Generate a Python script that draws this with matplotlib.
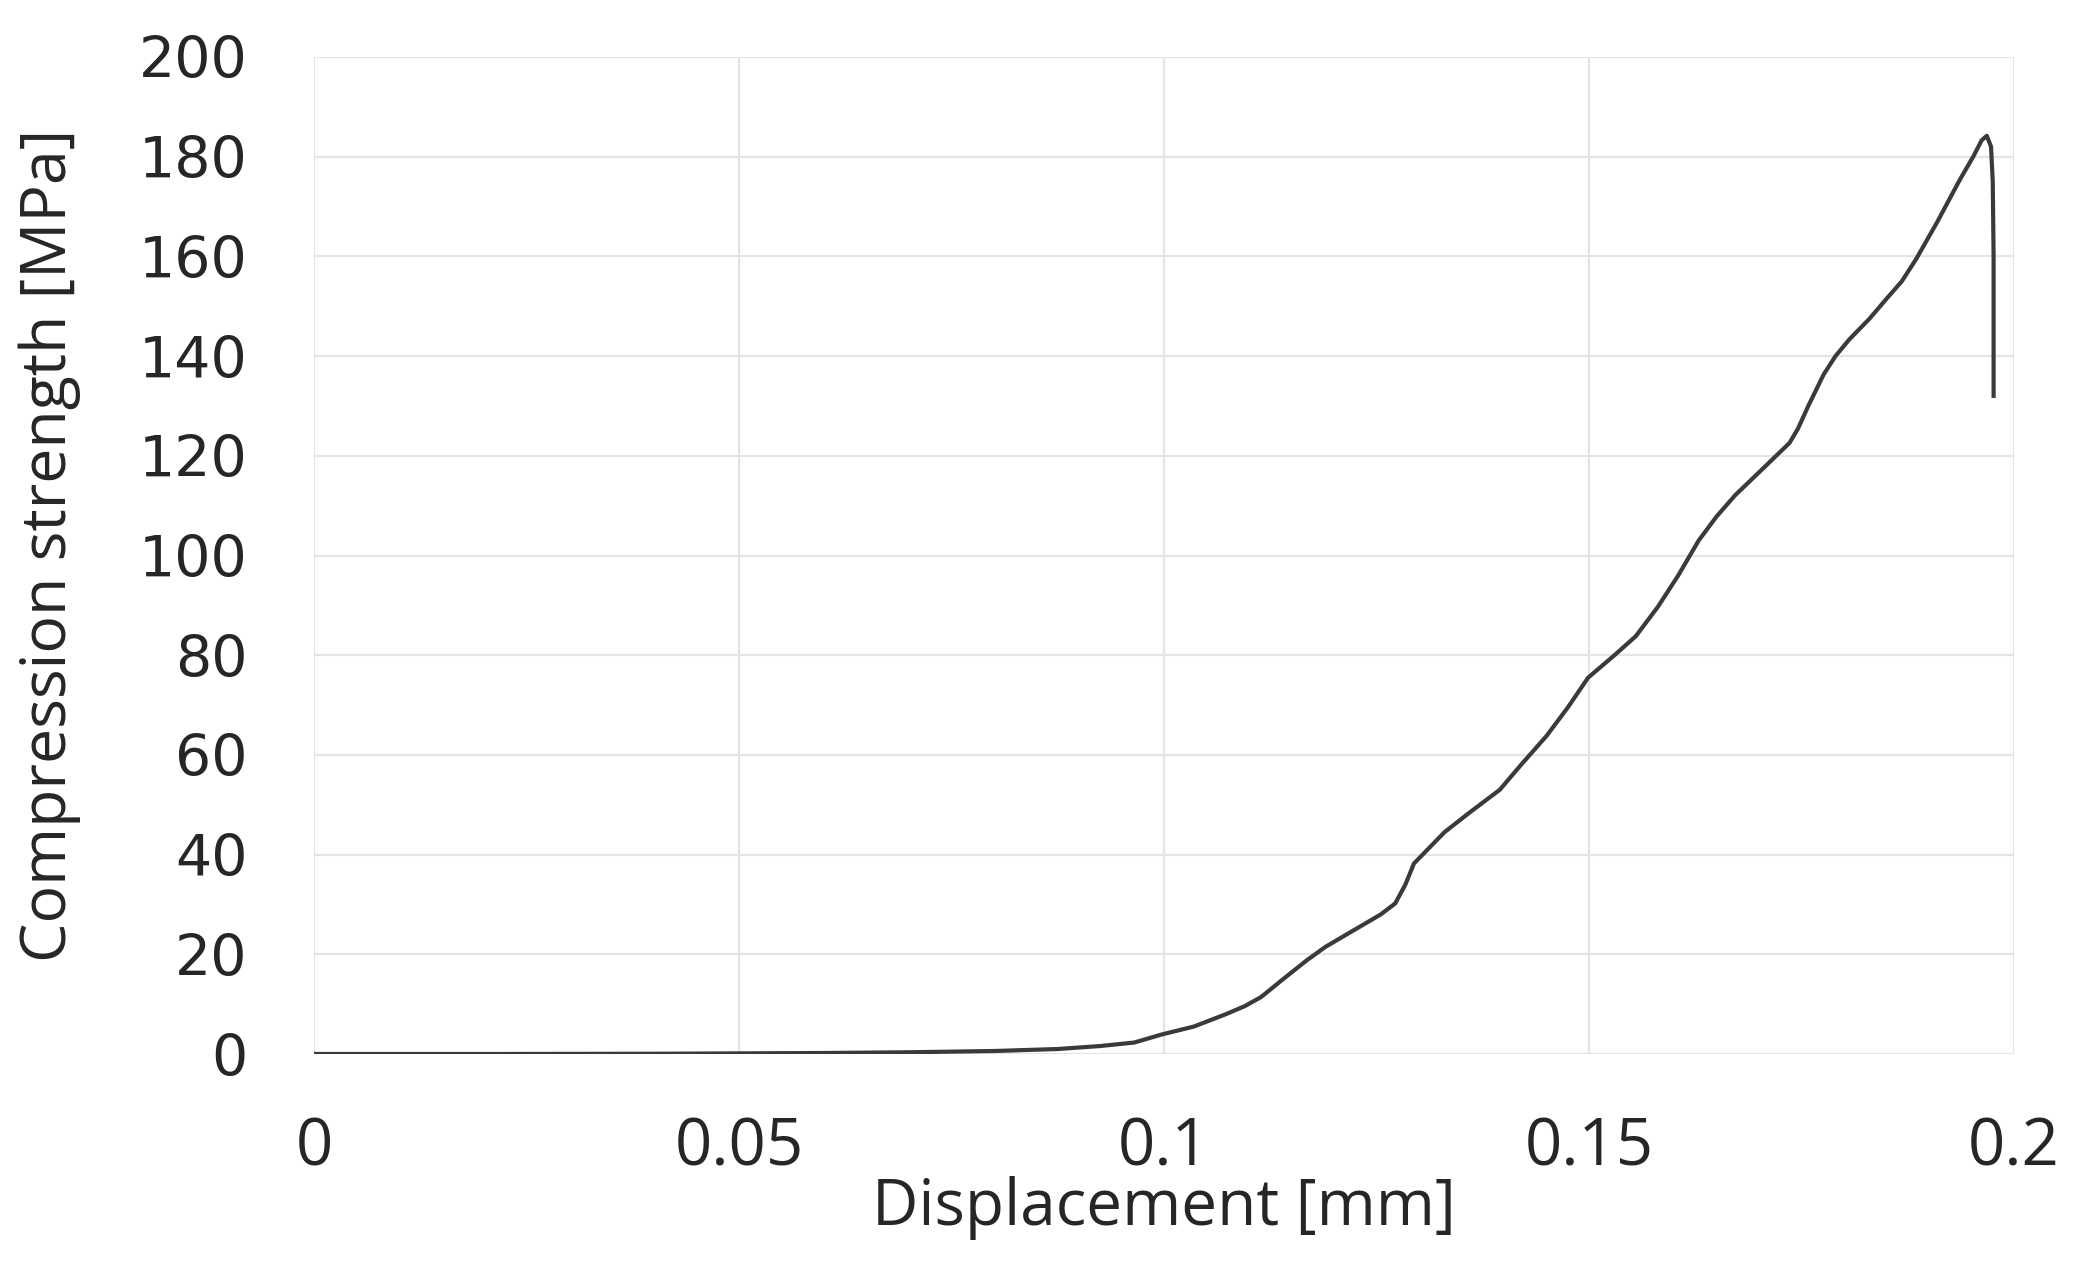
import matplotlib
matplotlib.use("Agg")
import matplotlib.pyplot as plt

# ── Data ────────────────────────────────────────────────────────
displacement_mm = [0, 0.02, 0.04, 0.06, 0.07, 0.08, 0.0875, 0.0925, 0.0965,
                   0.0997, 0.1035, 0.1073, 0.1095, 0.1114, 0.1140, 0.1168,
                   0.1190, 0.1213, 0.1235, 0.1255, 0.1272, 0.1284, 0.1294,
                   0.1310, 0.1330, 0.1360, 0.1395, 0.1420, 0.1450, 0.1475,
                   0.1499, 0.1530, 0.1555, 0.1581, 0.1605, 0.1629, 0.1650,
                   0.1672, 0.1705, 0.1736, 0.1746, 0.1758, 0.1776, 0.1790,
                   0.1806, 0.1830, 0.1849, 0.1868, 0.1885, 0.1910, 0.1936,
                   0.1952, 0.1962, 0.1968, 0.1973, 0.1975, 0.1976, 0.1976]
strength_mpa = [0, 0, 0.05, 0.2, 0.35, 0.6, 1.0, 1.6, 2.3,
                3.9, 5.5, 8.0, 9.6, 11.4, 15.0, 18.8,
                21.5, 23.8, 26.0, 28.0, 30.2, 34.0, 38.2,
                41.0, 44.5, 48.5, 53.0, 58.0, 63.8, 69.5,
                75.5, 80.0, 83.8, 89.7, 96.0, 103.0, 107.8,
                112.1, 117.5, 122.6, 125.5, 130.0, 136.3, 140.0,
                143.3, 147.5, 151.3, 155.0, 159.5, 167.0, 175.3,
                180.0, 183.3, 184.2, 182.0, 175.0, 160.0, 131.6]

x_ticks = [0, 0.05, 0.1, 0.15, 0.2]
x_tick_labels = ["0", "0.05", "0.1", "0.15", "0.2"]
y_ticks = list(range(0, 201, 20))

W, H, DPI = 2078, 1265, 100
fig = plt.figure(figsize=(W / DPI, H / DPI), dpi=DPI)
ax = fig.add_axes([314 / W, 1 - 1054 / H, (2014 - 314) / W, (1054 - 57) / H])

ax.plot(displacement_mm, strength_mpa, color='#3a3a3a', lw=3.0,
        solid_joinstyle='round', solid_capstyle='butt', zorder=3)

ax.set_xlim(0, 0.2)
ax.set_ylim(0, 200)
ax.set_xticks(x_ticks)
ax.set_xticklabels(x_tick_labels)
ax.set_yticks(y_ticks)

ax.grid(True, color='#e4e4e4', lw=1.6, zorder=0)
ax.set_axisbelow(True)
for sp in ax.spines.values():
    sp.set_visible(False)
ax.tick_params(axis='both', length=0, colors='#262626')
ax.tick_params(axis='x', pad=44, labelsize=47)
ax.tick_params(axis='y', pad=48, labelsize=41)
for lbl in ax.get_xticklabels():
    lbl.set_family(['Open Sans', 'DejaVu Sans'])
for lbl in ax.get_yticklabels():
    lbl.set_family(['DejaVu Sans'])

ax.set_xlabel('Displacement [mm]', fontsize=46, color='#262626',
              family=['Open Sans', 'DejaVu Sans'], labelpad=-4)
fig.text(50 / W, 1 - 545 / H, 'Compression strength [MPa]', rotation=90,
         ha='center', va='center', fontsize=45, color='#262626',
         family=['Open Sans', 'DejaVu Sans'])

fig.savefig('out.png', dpi=DPI, facecolor='white')
